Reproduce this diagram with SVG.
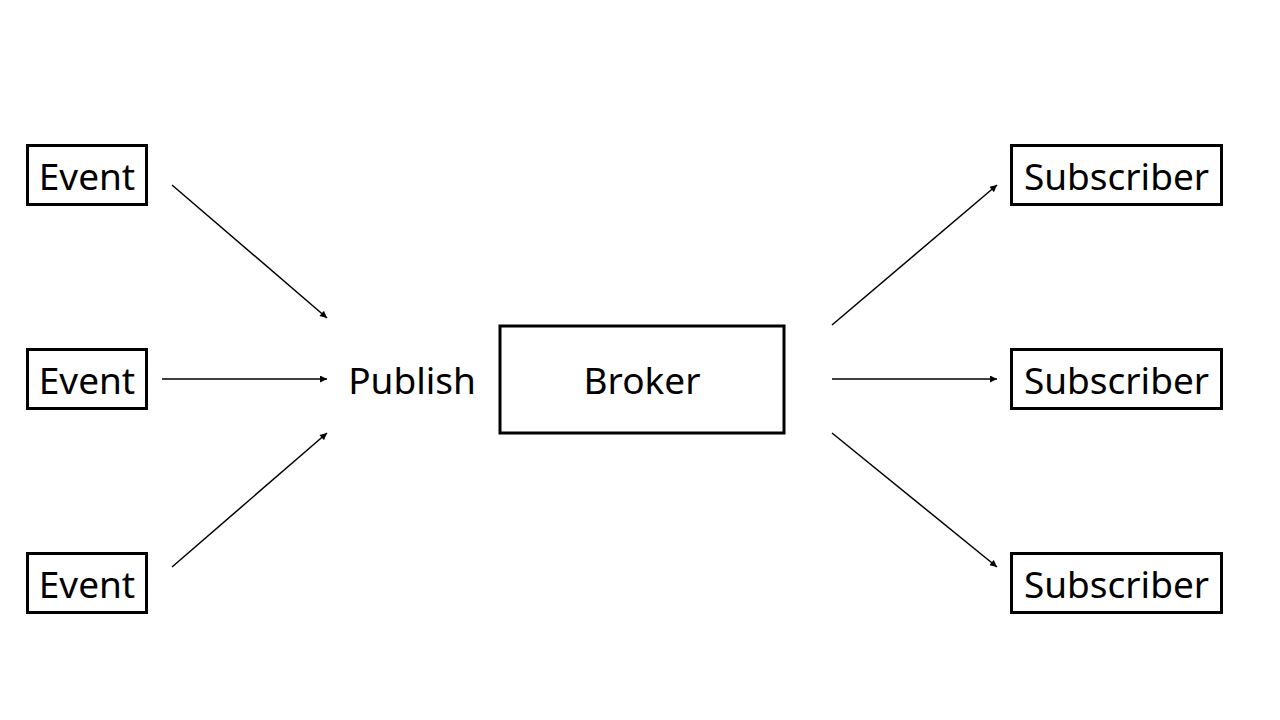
<svg xmlns="http://www.w3.org/2000/svg" width="1280" height="720" viewBox="0 0 1280 720">
<style>
.box{fill:#fff;stroke:#000;stroke-width:3}
.lbl{font-family:"Noto Sans","Open Sans",sans-serif;font-size:37px;fill:#000;text-anchor:middle}
.con{stroke:#000;stroke-width:1.5;fill:none;marker-end:url(#ah)}
</style>
<defs>
<marker id="ah" viewBox="0 0 10 10" refX="10" refY="5" markerWidth="8" markerHeight="7" markerUnits="userSpaceOnUse" orient="auto"><path d="M0,0L10,5L0,10z" fill="#000"/></marker>
</defs>
<rect width="1280" height="720" fill="#fff"/>
<g id="event1"><rect class="box" x="27.5" y="145.5" width="119" height="59"/><text class="lbl" x="87" y="190">Event</text></g>
<g id="event2"><rect class="box" x="27.5" y="349.5" width="119" height="59"/><text class="lbl" x="87" y="394">Event</text></g>
<g id="event3"><rect class="box" x="27.5" y="553.5" width="119" height="59"/><text class="lbl" x="87" y="598">Event</text></g>
<g id="publish"><text class="lbl" x="412" y="394">Publish</text></g>
<g id="broker"><rect class="box" x="500" y="326" width="284" height="107"/><text class="lbl" x="642" y="394">Broker</text></g>
<g id="sub1"><rect class="box" x="1011.5" y="145.5" width="210" height="59"/><text class="lbl" x="1116.5" y="190">Subscriber</text></g>
<g id="sub2"><rect class="box" x="1011.5" y="349.5" width="210" height="59"/><text class="lbl" x="1116.5" y="394">Subscriber</text></g>
<g id="sub3"><rect class="box" x="1011.5" y="553.5" width="210" height="59"/><text class="lbl" x="1116.5" y="598">Subscriber</text></g>
<g id="connectors">
<line class="con" x1="172" y1="185" x2="327" y2="318"/>
<line class="con" x1="162" y1="379" x2="327" y2="379"/>
<line class="con" x1="172" y1="567" x2="327" y2="433"/>
<line class="con" x1="832" y1="325" x2="997" y2="185"/>
<line class="con" x1="832" y1="379" x2="997" y2="379"/>
<line class="con" x1="832" y1="433" x2="997" y2="567"/>
</g>
</svg>
